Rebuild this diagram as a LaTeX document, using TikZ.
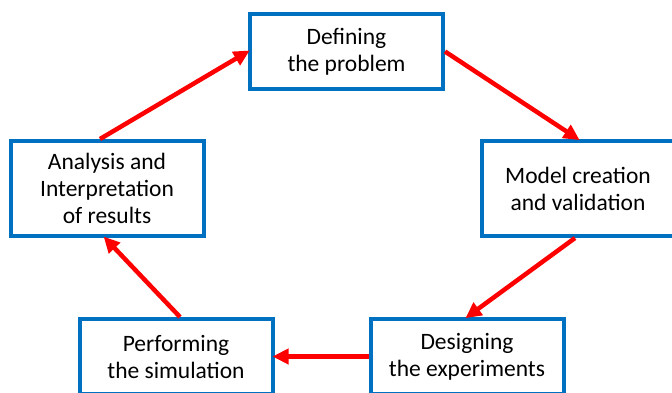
\documentclass[tikz,border=0pt]{standalone}
\usepackage{fontspec}
\setmainfont{Carlito}
\usetikzlibrary{arrows.meta, positioning, calc}
\definecolor{stageblue}{HTML}{0070C0}
\definecolor{flowred}{HTML}{FF0000}
\tikzset{
  stage/.style={
    rectangle, minimum width=193pt, minimum height=#1,
    align=center, draw=stageblue, line width=4pt, fill=white,
    font=\fontsize{23.5}{27}\selectfont, inner sep=0pt
  },
  stage/.default=75pt,
  flow/.style={
    -{Triangle[length=16pt, width=15pt]}, line width=4.5pt, color=flowred,
    shorten >=-2pt
  }
}
\begin{document}
\begin{tikzpicture}[x=1pt, y=-1pt]
  \useasboundingbox (0,0) rectangle (672,392);

  % Stages of the cycle
  \node[stage] (define) at (346.5,51.5) {Defining\\the problem};
  \node[stage=95pt] (model) at (578,188.5) {Model creation\\and validation};
  \node[stage] (design) at (467,356.5) {Designing\\the experiments};
  \node[stage] (perform) at (176,356.5) {Performing\\the simulation};
  \node[stage=95pt] (analysis) at (107,188.5) {Analysis and\\Interpretation\\of results};

  % Flow between stages
  \draw[flow] ([xshift=-7pt]analysis.north) -- (define.west);
  \draw[flow] (define.east) -- (model.north);
  \draw[flow] ([xshift=-3pt]model.south) -- (design.north);
  \draw[flow] (design.west) -- (perform.east);
  \draw[flow] ([xshift=4pt]perform.north) -- ([xshift=-2pt]analysis.south);

\end{tikzpicture}
\end{document}
